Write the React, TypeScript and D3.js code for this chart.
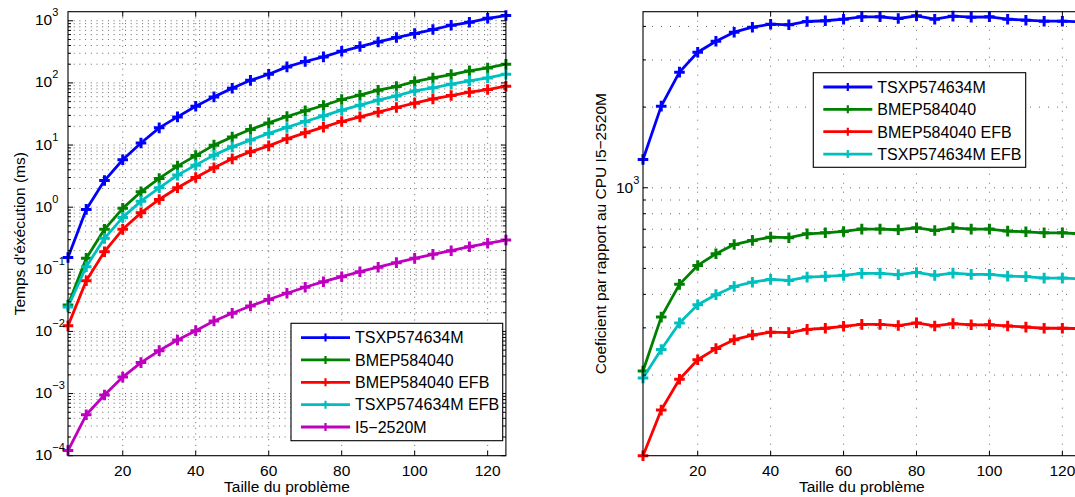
import React from 'react';
import * as d3 from 'd3';

// ---------------- DATA ----------------
const sizes = [5, 10, 15, 20, 25, 30, 35, 40, 45, 50, 55, 60, 65, 70, 75, 80, 85, 90, 95, 100, 105, 110, 115, 120, 125];

const seriesNames = ['TSXP574634M', 'BMEP584040', 'BMEP584040 EFB', 'TSXP574634M EFB', 'I5\u22122520M'];

// execution time (ms) – left panel
const timeTSXP = [0.155, 0.92, 2.68, 5.8, 10.8, 18.9, 28.4, 42.2, 59.6, 82.2, 110, 138, 181, 221, 262, 323, 385, 456, 537, 623, 722, 847, 946, 1097, 1213];
const timeBMEP = [0.0267, 0.15, 0.44, 0.957, 1.77, 2.9, 4.58, 6.76, 9.96, 13.5, 17.8, 22.7, 28.8, 35.5, 43.3, 54.1, 63.4, 76.3, 87.5, 105, 120, 136, 156, 174, 200];
const timeBMEPEFB = [0.0123, 0.0656, 0.192, 0.44, 0.81, 1.33, 2.05, 3.01, 4.3, 6.0, 7.78, 9.7, 12.6, 15.7, 19.4, 23.9, 28.4, 33.8, 40.2, 47.2, 55.3, 62.7, 70.8, 78.3, 88.5];
const timeTSXPEFB = [0.0248, 0.11, 0.315, 0.685, 1.25, 2.05, 3.28, 4.75, 6.88, 9.35, 12.0, 15.4, 19.2, 23.9, 29.5, 36.4, 43.8, 52.7, 61.8, 74.3, 83.2, 95.3, 108, 120, 138];
const timeCPU = [1.21e-4, 4.55e-4, 9.5e-4, 1.84e-3, 3.15e-3, 4.91e-3, 7.3e-3, 0.0103, 0.01475, 0.0196, 0.0257, 0.0327, 0.0411, 0.0514, 0.0632, 0.076, 0.0914, 0.108, 0.128, 0.15, 0.174, 0.199, 0.231, 0.262, 0.296];

// coefficient relative to CPU – right panel
const coefTSXP = [1275, 2016, 2700, 3206, 3524, 3807, 3974, 4077, 4056, 4174, 4200, 4257, 4346, 4346, 4282, 4383, 4257, 4370, 4333, 4346, 4257, 4221, 4184, 4184, 4160];
const coefBMEP = [207, 329, 436, 513, 567, 614, 636, 654, 651, 673, 679, 687, 701, 701, 697, 709, 693, 709, 701, 701, 689, 685, 679, 679, 673];
const coefBMEPEFB = [100, 148, 193, 228, 251, 271, 282, 289, 288, 296, 299, 304, 309, 309, 306, 313, 305, 311, 308, 308, 305, 302, 299, 299, 298];
const coefTSXPEFB = [195, 249, 313, 366, 399, 428, 444, 455, 451, 464, 467, 471, 479, 479, 474, 483, 471, 480, 475, 475, 468, 466, 460, 460, 457];

const xTicks = [20, 40, 60, 80, 100, 120];
const leftExponents = [3, 2, 1, 0, -1, -2, -3, -4];
const rightExponents = [3];

const xTitle = 'Taille du probl\u00e8me';
const leftYTitle = "Temps d'\u00e9x\u00e9cution (ms)";
const rightYTitle = 'Coeficient par rapport au CPU I5\u22122520M';

const colors = ['#0000ff', '#008000', '#ff0000', '#00bfbf', '#bf00bf'];

// ---------------- LAYOUT ----------------
const FONT = "'Liberation Sans', Arial, Helvetica, sans-serif";

type Series = { name: string; values: number[]; color: string };

type PanelProps = {
  left: number;
  right: number;
  top: number;
  bottom: number;
  yDomain: [number, number];
  exps: number[];
  labelX: number;
  labelDy: number;
  series: Series[];
  gridDash: string;
  yTitle: string;
  yTitleX: number;
  legend: { x: number; y: number; w: number; h: number };
};

function Panel(p: PanelProps) {
  const x = d3.scaleLinear().domain([5, 125]).range([p.left, p.right]);
  const y = d3.scaleLog().domain(p.yDomain).range([p.bottom, p.top]);
  const [lo, hi] = p.yDomain;
  const logTicks: { v: number; major: boolean }[] = [];
  for (let d = Math.floor(Math.log10(lo)); d <= Math.ceil(Math.log10(hi)); d++) {
    for (let k = 1; k <= 9; k++) {
      const v = k * Math.pow(10, d);
      if (v >= lo * 0.9999 && v <= hi * 1.0001) logTicks.push({ v, major: k === 1 });
    }
  }
  const line = d3
    .line<number>()
    .x((_, i) => x(sizes[i]))
    .y((v) => y(v));
  const gridStroke = '#444';
  const midY = (p.top + p.bottom) / 2;
  const midX = (p.left + p.right) / 2;
  const plus = (cx: number, cy: number, r: number) => `M${cx - r},${cy}H${cx + r}M${cx},${cy - r}V${cy + r}`;
  const rowH = 22.35;
  return (
    <g>
      {/* grid */}
      {xTicks.map((t) => (
        <line key={'gx' + t} x1={x(t)} x2={x(t)} y1={p.top} y2={p.bottom} stroke={gridStroke} strokeWidth={0.8} strokeDasharray={p.gridDash} />
      ))}
      {logTicks
        .filter((t) => Math.abs(y(t.v) - p.bottom) > 1 && Math.abs(y(t.v) - p.top) > 1)
        .map((t) => (
          <line key={'gy' + t.v} x1={p.left} x2={p.right} y1={y(t.v)} y2={y(t.v)} stroke={gridStroke} strokeWidth={0.8} strokeDasharray={p.gridDash} />
        ))}
      {/* series */}
      {p.series.map((s) => (
        <g key={s.name}>
          <path d={line(s.values) || ''} fill="none" stroke={s.color} strokeWidth={2.8} strokeLinejoin="round" />
          <path d={s.values.map((v, i) => plus(x(sizes[i]), y(v), 5.3)).join('')} stroke={s.color} strokeWidth={3} fill="none" />
        </g>
      ))}
      {/* box */}
      <rect x={p.left} y={p.top} width={p.right - p.left} height={p.bottom - p.top} fill="none" stroke="#000" strokeWidth={1.1} />
      {/* x ticks */}
      {xTicks.map((t) => (
        <g key={'tx' + t}>
          <line x1={x(t)} x2={x(t)} y1={p.bottom} y2={p.bottom - 5} stroke="#000" />
          <line x1={x(t)} x2={x(t)} y1={p.top} y2={p.top + 5} stroke="#000" />
          <text x={x(t)} y={p.bottom + 20} fontSize={15.5} textAnchor="middle" fontFamily={FONT} fill="#000">
            {t}
          </text>
        </g>
      ))}
      {/* y ticks */}
      {logTicks.map((t) => {
        const len = t.major ? 5 : 3;
        return (
          <g key={'ty' + t.v}>
            <line x1={p.left} x2={p.left + len} y1={y(t.v)} y2={y(t.v)} stroke="#000" />
            <line x1={p.right} x2={p.right - len} y1={y(t.v)} y2={y(t.v)} stroke="#000" />
          </g>
        );
      })}
      {p.exps.map((e) => (
        <text key={'ly' + e} x={p.labelX} y={y(Math.pow(10, e)) + p.labelDy} fontSize={15.5} fontFamily={FONT} fill="#000">
          10
          <tspan dy={-9} fontSize={11}>
            {e < 0 ? '\u2212' + Math.abs(e) : String(e)}
          </tspan>
        </text>
      ))}
      {/* titles */}
      <text x={midX} y={492} fontSize={15.5} textAnchor="middle" fontFamily={FONT} fill="#000">
        {xTitle}
      </text>
      <text transform={`translate(${p.yTitleX},${midY}) rotate(-90)`} fontSize={15.5} textAnchor="middle" fontFamily={FONT} fill="#000">
        {p.yTitle}
      </text>
      {/* legend */}
      <rect x={p.legend.x} y={p.legend.y} width={p.legend.w} height={p.legend.h} fill="#fff" stroke="#000" strokeWidth={1.1} />
      {p.series.map((s, i) => {
        const cy = p.legend.y + 14.3 + i * rowH;
        const lx0 = p.legend.x + 10;
        const lx1 = lx0 + 49;
        return (
          <g key={'lg' + s.name}>
            <line x1={lx0} x2={lx1} y1={cy} y2={cy} stroke={s.color} strokeWidth={2.8} />
            <path d={plus((lx0 + lx1) / 2, cy, 4)} stroke={s.color} strokeWidth={2.2} />
            <text x={lx1 + 5} y={cy + 5.8} fontSize={16} fontFamily={FONT} fill="#000">
              {s.name}
            </text>
          </g>
        );
      })}
    </g>
  );
}

export default function App() {
  const leftSeries: Series[] = [timeTSXP, timeBMEP, timeBMEPEFB, timeTSXPEFB, timeCPU].map((v, i) => ({
    name: seriesNames[i],
    values: v,
    color: colors[i],
  }));
  const rightSeries: Series[] = [coefTSXP, coefBMEP, coefBMEPEFB, coefTSXPEFB].map((v, i) => ({
    name: seriesNames[i],
    values: v,
    color: colors[i],
  }));
  return (
    <svg
      width={1075}
      height={497}
      style={{ position: 'absolute', left: 0, top: 0, background: '#fff', overflow: 'hidden' }}
    >
      <rect x={0} y={0} width={1075} height={497} fill="#fff" />
      <Panel
        left={68}
        right={505.9}
        top={11.7}
        bottom={455.7}
        yDomain={[1e-4, 1400]}
        exps={leftExponents}
        labelX={35}
        labelDy={4.5}
        series={leftSeries}
        gridDash="1,4.7"
        yTitle={leftYTitle}
        yTitleX={25}
        legend={{ x: 291, y: 323.3, w: 211.7, h: 117.4 }}
      />
      <Panel
        left={643}
        right={1080.6}
        top={11.7}
        bottom={455.7}
        yDomain={[100, 4540]}
        exps={rightExponents}
        labelX={616}
        labelDy={5.5}
        series={rightSeries}
        gridDash="1,8"
        yTitle={rightYTitle}
        yTitleX={605.5}
        legend={{ x: 813.3, y: 72.7, w: 212.4, h: 94.6 }}
      />
    </svg>
  );
}
